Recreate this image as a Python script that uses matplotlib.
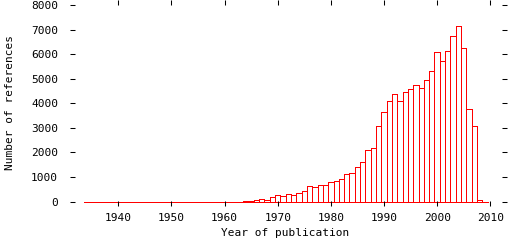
import matplotlib
matplotlib.use('Agg')
import matplotlib.pyplot as plt

# references per publication year
years = list(range(1934, 2010))
counts = [0] * 30 + [
    40, 40, 45, 120, 80, 165,
    255, 215, 325, 285, 365, 415, 640, 600, 690, 690,
    775, 855, 935, 1140, 1180, 1410, 1590, 2100, 2180, 3080,
    3650, 4090, 4380, 4090, 4470, 4580, 4740, 4620, 4940, 5310,
    6090, 5720, 6130, 6750, 7140, 6240, 3760, 3070, 80, 0,
]
xticks = list(range(1940, 2011, 10))
yticks = list(range(0, 8001, 1000))

plt.rcParams['font.family'] = ['DejaVu Sans Mono']
plt.rcParams['font.size'] = 8

fig = plt.figure(figsize=(5.12, 2.4), dpi=100)
ax = fig.add_axes([70 / 512, 34 / 240, 437 / 512, 206 / 240])

ax.bar(years, counts, width=1.0, fill=False, edgecolor='red',
       linewidth=0.6, antialiased=False)

ax.set_xlim(1930.9, 2013.15)
ax.set_ylim(-183, 8204)
ax.set_xticks(xticks)
ax.set_yticks(yticks)

for s in ax.spines.values():
    s.set_visible(False)
ax.tick_params(direction='in', length=3.6, width=0.75, top=True, right=True,
               labeltop=False, labelright=False, colors='black')
ax.tick_params(axis='y', pad=8.6)
ax.tick_params(axis='x', pad=5)

ax.set_xlabel('Year of publication')
ax.set_ylabel('Number of references')
ax.xaxis.set_label_coords(0.493, -0.105)
ax.yaxis.set_label_coords(-0.125, 0.5)

fig.savefig('out.png', dpi=100)
